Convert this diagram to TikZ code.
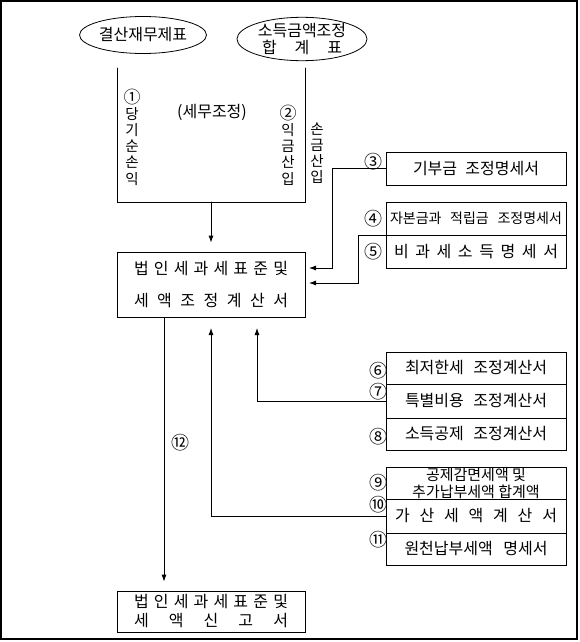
\documentclass[tikz,border=0pt]{standalone}
\usepackage{fontspec}
\newfontfamily\kr{Noto Sans CJK KR}
\usetikzlibrary{shapes.geometric,arrows.meta}
\newcommand{\spread}[2]{\makebox[#1][s]{#2}}

\begin{document}
\begin{tikzpicture}[x=1pt,y=-1pt,line cap=round,
  every node/.style={font=\kr\fontsize{16}{16.2}\selectfont, inner sep=0pt},
  box/.style={draw, line width=0.8pt, minimum width=180pt, minimum height=33pt},
  oval/.style={draw, ellipse, line width=0.8pt},
  num/.style={font=\kr\fontsize{18}{18}\selectfont},
  column/.style={align=center, font=\kr\fontsize{14.5}{16.2}\selectfont},
  wire/.style={line width=0.8pt},
  arr/.style={wire, -{Latex[length=7pt,width=5pt]}}]
  \useasboundingbox (0,0) rectangle (580,642);
  \draw[line width=1.3pt] (1,1) rectangle (577,639);

  % source statements
  \node[oval, minimum width=127pt, minimum height=37pt] (fs) at (143,35) {결산재무제표};
  \node[oval, minimum width=130pt, minimum height=43pt, align=center] (adj) at (302,39)
    {소득금액조정\\\spread{80pt}{합\hfill 계\hfill 표}};

  % tax adjustment
  \draw[wire] (117,68) |- (305,202) -- (305,68);
  \node[column] (col1) at (132,137) {{\fontsize{17}{16.2}\selectfont ①}\\당\\기\\순\\손\\익};
  \node (taxadj) at (212,112) {(세무조정)};
  \node[column] (col2) at (288,145) {{\fontsize{17}{16.2}\selectfont ②}\\익\\금\\산\\입};
  \node[column] (col3) at (317,153) {손\\금\\산\\입};
  \coordinate (ubot) at (211,202);

  % main statement
  \node[box, minimum width=188pt, minimum height=65pt, align=center,
    font=\kr\fontsize{16}{32}\selectfont] (main) at (211,284.5)
    {\spread{154pt}{법\hfill 인\hfill 세\hfill 과\hfill 세\hfill 표\hfill 준\hfill 및}\\
     \spread{154pt}{세\hfill 액\hfill 조\hfill 정\hfill 계\hfill 산\hfill 서}};
  \node[box, minimum width=188pt, minimum height=41pt, align=center,
    font=\kr\fontsize{16}{19}\selectfont] (ret) at (211,611.5)
    {\spread{154pt}{법\hfill 인\hfill 세\hfill 과\hfill 세\hfill 표\hfill 준\hfill 및}\\
     \spread{154pt}{세\hfill 액\hfill 신\hfill 고\hfill 서}};

  % schedules
  \node[box, minimum height=33pt] (b3) at (476,168.5) {\spread{126pt}{기부금\hfill 조정명세서}};
  \node[box, minimum height=33pt, font=\kr\fontsize{14}{16}\selectfont] (b4) at (476,218.5)
    {\spread{172pt}{자본금과\hfill 적립금\hfill 조정명세서}};
  \node[box, minimum height=33pt] (b5) at (476,251.5)
    {\spread{164pt}{비\hfill 과\hfill 세\hfill 소\hfill 득\hfill 명\hfill 세\hfill 서}};
  \node[box, minimum height=32pt] (b6) at (476,368) {\spread{142pt}{최저한세\hfill 조정계산서}};
  \node[box, minimum height=34pt] (b7) at (476,401) {\spread{142pt}{특별비용\hfill 조정계산서}};
  \node[box, minimum height=32pt] (b8) at (476,434) {\spread{142pt}{소득공제\hfill 조정계산서}};
  \node[box, minimum height=32pt, align=center,
    font=\kr\fontsize{15}{17}\selectfont] (b9) at (476,483) {공제감면세액 및\\추가납부세액 합계액};
  \node[box, minimum height=34pt] (b10) at (476,516)
    {\spread{162pt}{가\hfill 산\hfill 세\hfill 액\hfill 계\hfill 산\hfill 서}};
  \node[box, minimum height=32pt] (b11) at (476,549) {\spread{143pt}{원천납부세액\hfill 명세서}};

  % numbers
  \node[num] (n3) at (373,162) {③};
  \node[num] (n4) at (373,219) {④};
  \node[num] (n5) at (373,252) {⑤};
  \node[num] (n6) at (378,371) {⑥};
  \node[num] (n7) at (378,392) {⑦};
  \node[num] (n8) at (378,437) {⑧};
  \node[num] (n9) at (378,483) {⑨};
  \node[num] (n10) at (378,505) {⑩};
  \node[num] (n11) at (378,540) {⑪};
  \node[num] (n12) at (180,443) {⑫};

  % connectors
  \coordinate (t3) at (309,268);
  \coordinate (t5) at (309,283);
  \coordinate (t7) at (257,328);
  \coordinate (t10) at (211,328);
  \draw[arr] (ubot) -- ([yshift=9pt]main.north);
  \draw[arr] (b3.west) -- ++(-53,0) |- (t3);
  \draw[arr] (b4.south west) -- ++(-27,0) |- (t5);
  \draw[arr] (b7.west) -| (t7);
  \draw[arr] (b10.west) -| (t10);
  \draw[arr] ([xshift=-47pt]main.south) -- ([xshift=-47pt,yshift=9pt]ret.north);
\end{tikzpicture}
\end{document}
